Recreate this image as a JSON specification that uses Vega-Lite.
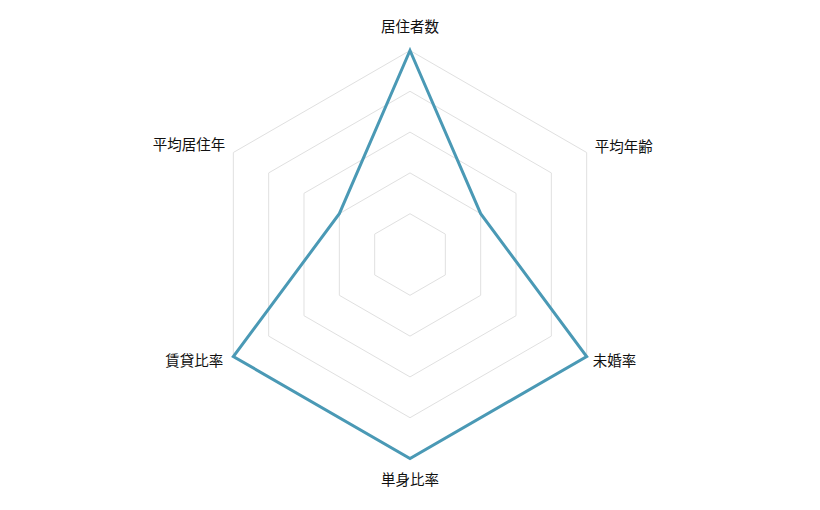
{
  "$schema": "https://vega.github.io/schema/vega-lite/v6.json",
  "description": "Radar chart of six resident attributes.",
  "width": 820,
  "height": 510,
  "autosize": "none",
  "padding": 0,
  "datasets": {
    "scores": [
      {"axis": "居住者数", "order": 0, "value": 5},
      {"axis": "平均年齢", "order": 1, "value": 2},
      {"axis": "未婚率", "order": 2, "value": 5},
      {"axis": "単身比率", "order": 3, "value": 5},
      {"axis": "賃貸比率", "order": 4, "value": 5},
      {"axis": "平均居住年", "order": 5, "value": 2}
    ],
    "rings": [
      {"order": 0, "level": [1, 2, 3, 4, 5]},
      {"order": 1, "level": [1, 2, 3, 4, 5]},
      {"order": 2, "level": [1, 2, 3, 4, 5]},
      {"order": 3, "level": [1, 2, 3, 4, 5]},
      {"order": 4, "level": [1, 2, 3, 4, 5]},
      {"order": 5, "level": [1, 2, 3, 4, 5]}
    ]
  },
  "config": {
    "view": {"stroke": null},
    "text": {"font": "Noto Sans CJK JP", "fontSize": 14.5, "color": "#111"}
  },
  "encoding": {
    "x": {"field": "px", "type": "quantitative", "axis": null,
          "scale": {"domain": [-10.049, 10.049], "nice": false, "zero": false}},
    "y": {"field": "py", "type": "quantitative", "axis": null,
          "scale": {"domain": [-6.262, 6.238], "nice": false, "zero": false}},
    "order": {"field": "order", "type": "quantitative"}
  },
  "layer": [
    {
      "data": {"name": "rings"},
      "transform": [
        {"flatten": ["level"]},
        {"calculate": "datum.level * sin(datum.order * PI / 3)", "as": "px"},
        {"calculate": "datum.level * cos(datum.order * PI / 3)", "as": "py"}
      ],
      "mark": {"type": "line", "interpolate": "linear-closed", "color": "#e0e0e0", "strokeWidth": 1},
      "encoding": {"detail": {"field": "level", "type": "nominal"}}
    },
    {
      "data": {"name": "scores"},
      "transform": [
        {"calculate": "datum.value * sin(datum.order * PI / 3)", "as": "px"},
        {"calculate": "datum.value * cos(datum.order * PI / 3)", "as": "py"}
      ],
      "mark": {"type": "line", "interpolate": "linear-closed", "color": "#4a99b5", "strokeWidth": 3}
    },
    {
      "data": {"name": "scores"},
      "transform": [
        {"calculate": "5 * sin(datum.order * PI / 3)", "as": "px"},
        {"calculate": "5 * cos(datum.order * PI / 3)", "as": "py"}
      ],
      "layer": [
        {
          "transform": [{"filter": "datum.order == 0"}],
          "mark": {"type": "text", "align": "center", "baseline": "middle", "dy": -23},
          "encoding": {"text": {"field": "axis"}}
        },
        {
          "transform": [{"filter": "datum.order == 3"}],
          "mark": {"type": "text", "align": "center", "baseline": "middle", "dy": 22},
          "encoding": {"text": {"field": "axis"}}
        },
        {
          "transform": [{"filter": "datum.order == 1"}],
          "mark": {"type": "text", "align": "left", "baseline": "middle", "dx": 8, "dy": -5},
          "encoding": {"text": {"field": "axis"}}
        },
        {
          "transform": [{"filter": "datum.order == 2"}],
          "mark": {"type": "text", "align": "left", "baseline": "middle", "dx": 6, "dy": 5},
          "encoding": {"text": {"field": "axis"}}
        },
        {
          "transform": [{"filter": "datum.order == 4"}],
          "mark": {"type": "text", "align": "right", "baseline": "middle", "dx": -10, "dy": 5},
          "encoding": {"text": {"field": "axis"}}
        },
        {
          "transform": [{"filter": "datum.order == 5"}],
          "mark": {"type": "text", "align": "right", "baseline": "middle", "dx": -8, "dy": -7},
          "encoding": {"text": {"field": "axis"}}
        }
      ]
    }
  ]
}
